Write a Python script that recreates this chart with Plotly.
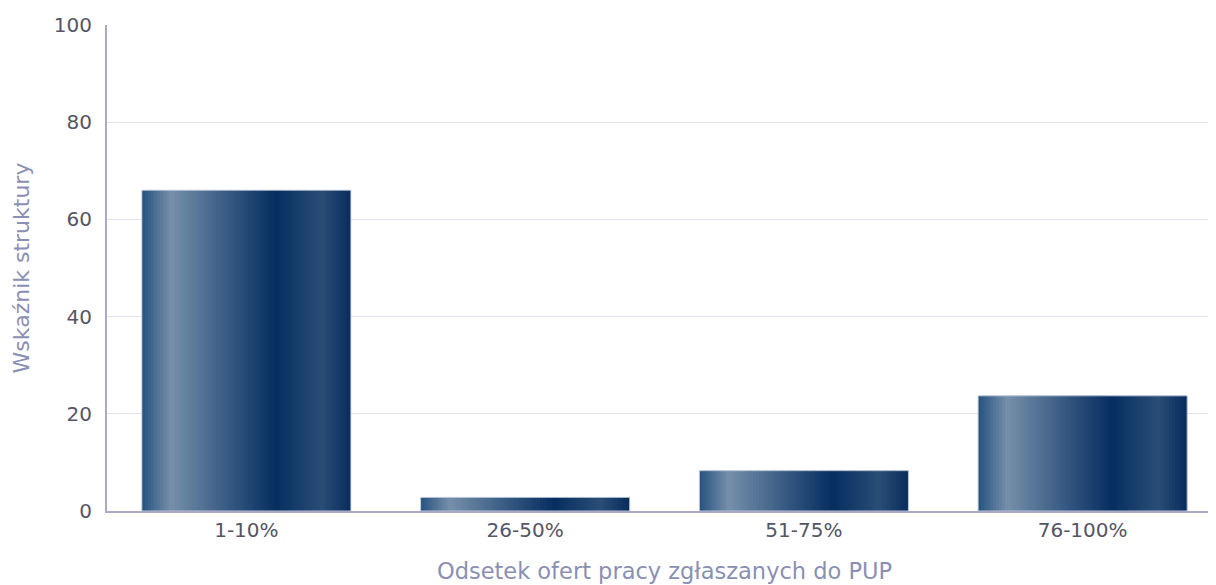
import plotly.graph_objects as go

categories = ["1-10%", "26-50%", "51-75%", "76-100%"]
values = [66.0, 2.8, 8.3, 23.7]
y_ticks = [0, 20, 40, 60, 80, 100]
x_title = "Odsetek ofert pracy zgłaszanych do PUP"
y_title = "Wskaźnik struktury"

# horizontal gradient stops (position, rgb)
stops = [
    (0.00, (38, 82, 128)),
    (0.14, (118, 143, 170)),
    (0.40, (58, 92, 132)),
    (0.64, (6, 46, 96)),
    (0.86, (42, 78, 118)),
    (1.00, (8, 44, 92)),
]

def color_at(t):
    for (p0, c0), (p1, c1) in zip(stops[:-1], stops[1:]):
        if p0 <= t <= p1:
            f = (t - p0) / (p1 - p0) if p1 > p0 else 0
            c = [round(a + (b - a) * f) for a, b in zip(c0, c1)]
            return "rgb({},{},{})".format(*c)
    return "rgb({},{},{})".format(*stops[-1][1])

BAR_W = 0.75
N = 70
fig = go.Figure()
step = BAR_W / N
for k in range(N):
    t = (k + 0.5) / N
    w = step * 2.5 if k < N - 1 else step
    fig.add_trace(go.Bar(
        x=categories, y=values,
        width=min(w, BAR_W - k * step), offset=-BAR_W / 2 + k * step,
        marker=dict(color=color_at(t), line=dict(width=0)),
        showlegend=False, hoverinfo="skip",
    ))
# outline
fig.add_trace(go.Bar(
    x=categories, y=values, width=BAR_W, offset=-BAR_W / 2,
    marker=dict(color="rgba(0,0,0,0)", line=dict(width=1, color="rgba(200,210,225,0.9)")),
    showlegend=False,
))

font_fam = "DejaVu Sans, Verdana, sans-serif"
fig.update_layout(
    width=1216, height=585,
    margin=dict(l=99, r=2, t=17, b=82),
    barmode="overlay",
    plot_bgcolor="white", paper_bgcolor="white",
    font=dict(family=font_fam, size=20, color="#606070"),
    xaxis=dict(
        type="category", categoryorder="array", categoryarray=categories,
        range=[-0.5, 3.5], automargin=False,
        showline=True, linecolor="#a9aac8", linewidth=2,
        showgrid=False, ticks="outside", ticklen=0, tickcolor="rgba(0,0,0,0)",
        tickfont=dict(size=20, color="#555566"),
        title=dict(text=x_title, font=dict(size=22.5, color="#8a8fb4"), standoff=22),
        fixedrange=True,
    ),
    yaxis=dict(
        range=[0, 100], tickvals=y_ticks, automargin=False,
        showline=True, linecolor="#a9aac8", linewidth=2,
        showgrid=True, gridcolor="#e3e3ee", gridwidth=1,
        zeroline=False,
        ticks="outside", ticklen=9, tickcolor="rgba(0,0,0,0)",
        tickfont=dict(size=20, color="#555566"),
        title=dict(text=y_title, font=dict(size=22, color="#8a8fb4"), standoff=18),
    ),
)
fig.write_html("out.html")
